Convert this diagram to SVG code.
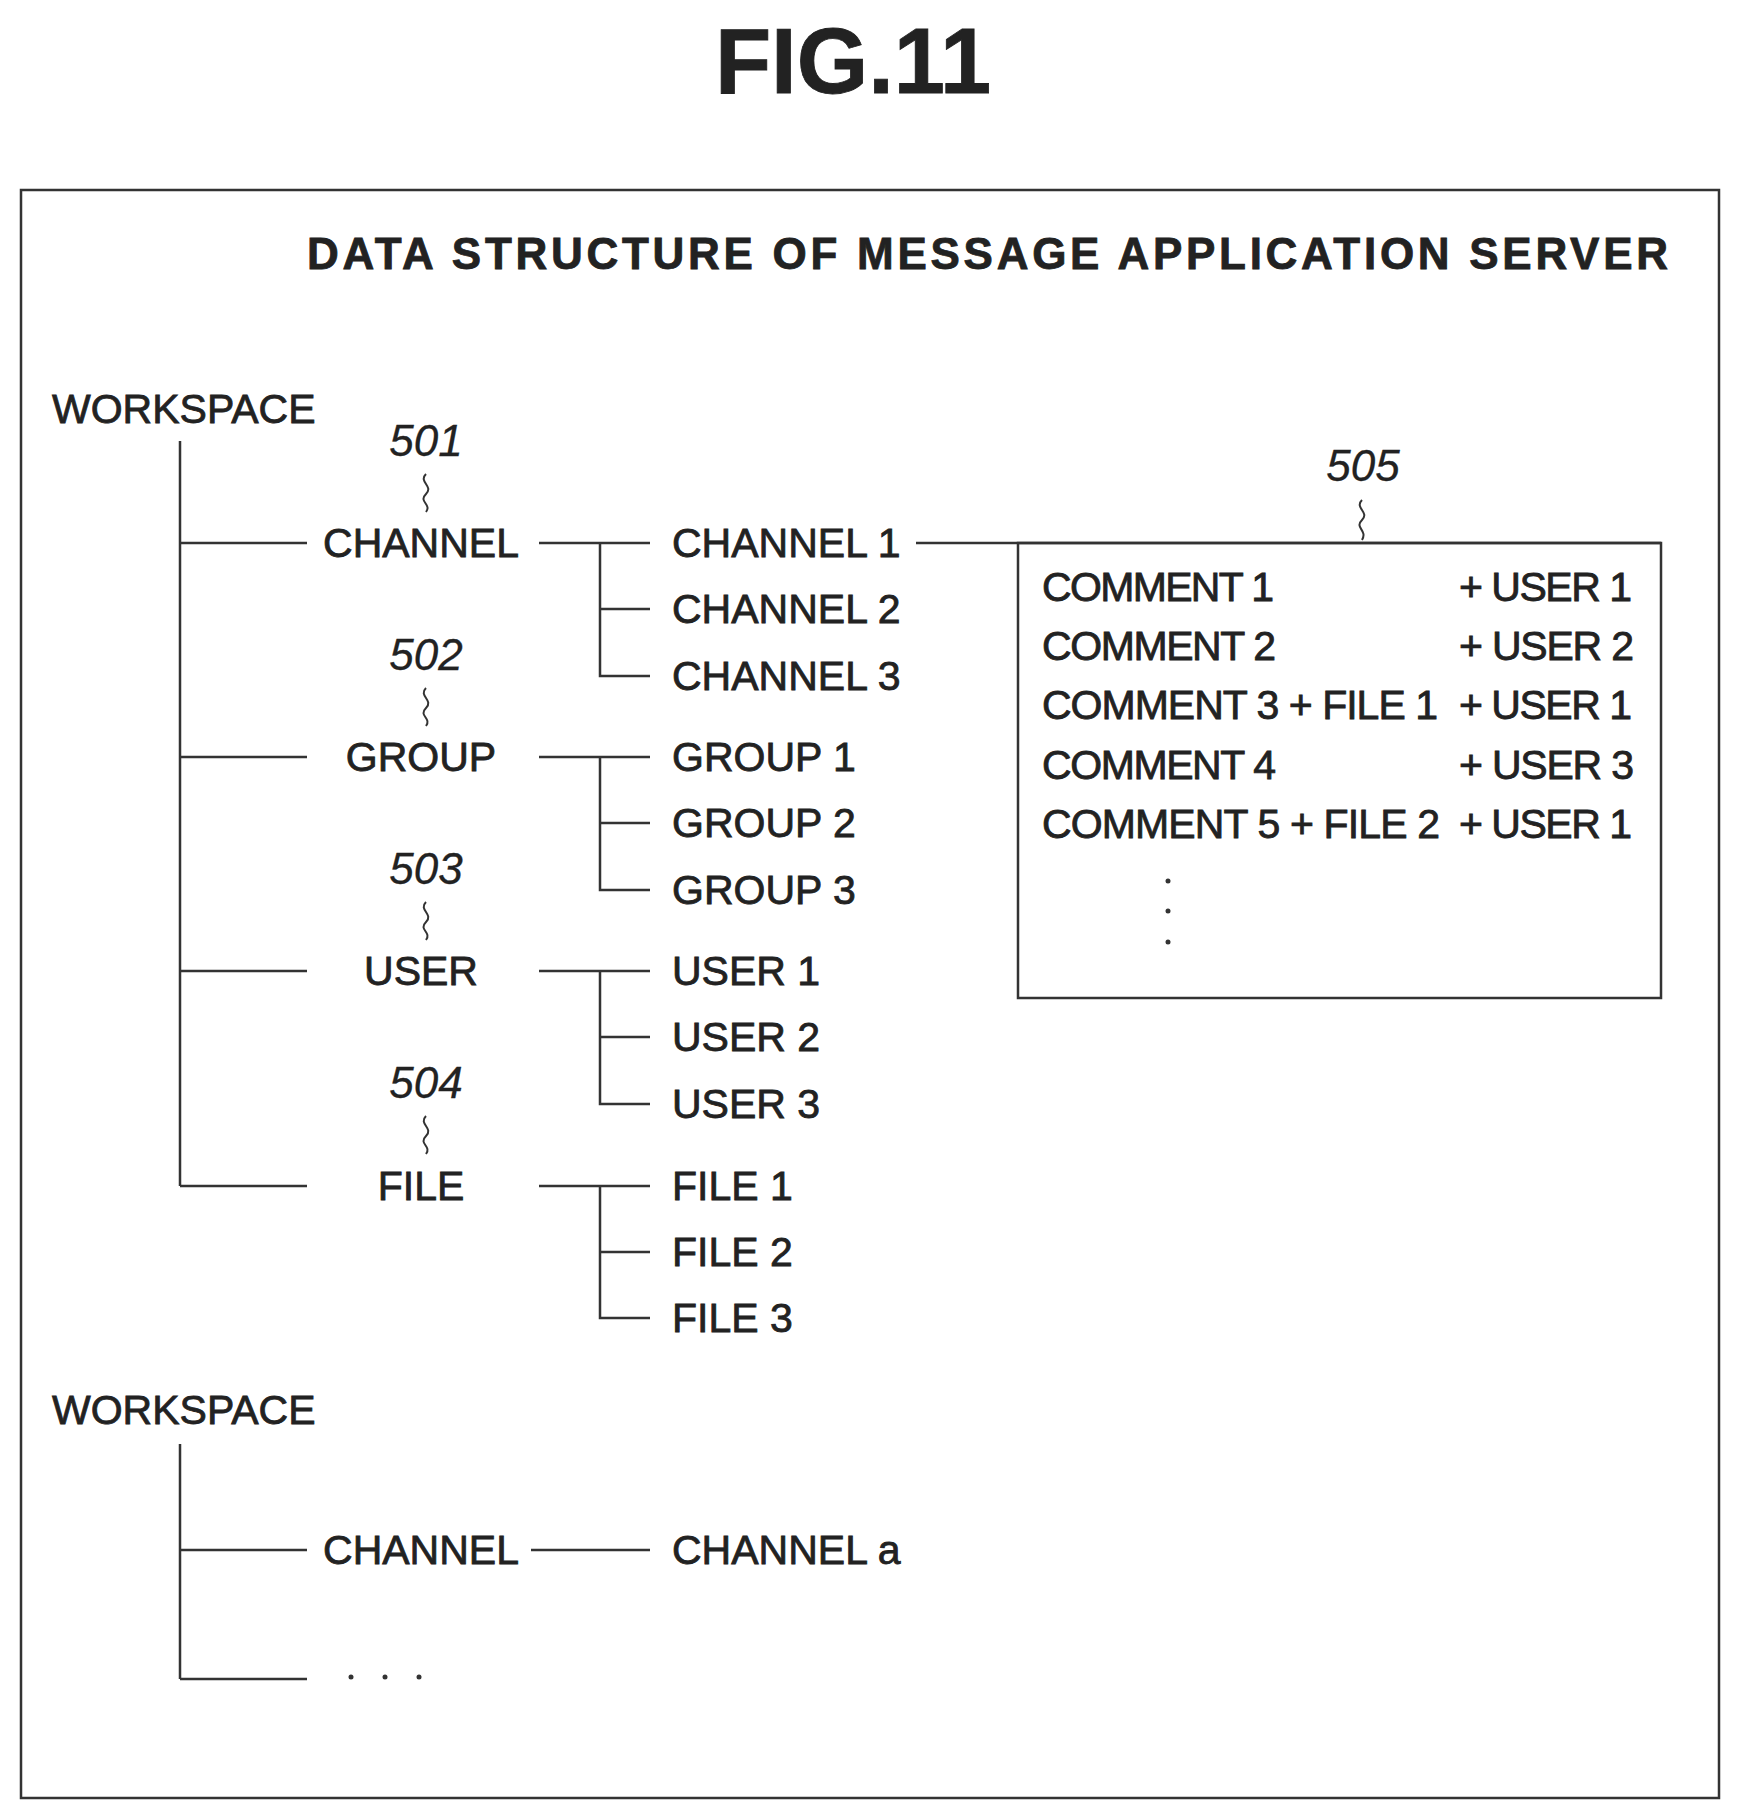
<svg xmlns="http://www.w3.org/2000/svg" width="1740" height="1819" viewBox="0 0 1740 1819">
<style>
text{font-family:"Liberation Sans",Arial,sans-serif;fill:#222;stroke:#222;stroke-width:0.8}
.t{font-size:41px}
.m{text-anchor:middle}
.r{font-size:44px;font-style:italic;stroke-width:0.3}
.ln{stroke:#333;stroke-width:2.5;fill:none}
.sq{stroke:#333;stroke-width:2;fill:none}
</style>
<rect width="1740" height="1819" fill="#fff"/>
<text x="853" y="93" class="m" style="font-size:92px;font-weight:bold">FIG.11</text>
<rect x="21" y="190" width="1698" height="1608" class="ln"/>
<text x="307" y="269" textLength="1361" lengthAdjust="spacing" style="font-size:44px;font-weight:bold">DATA STRUCTURE OF MESSAGE APPLICATION SERVER</text>
<g id="connectors">
<path class="ln" d="M180 441V1186M180 543H307M180 757H307M180 971H307M180 1186H307"/>
<path class="ln" d="M539 543H650M600 543V676H650M600 609H650"/>
<path class="ln" d="M539 757H650M600 757V890H650M600 823H650"/>
<path class="ln" d="M539 971H650M600 971V1104H650M600 1037H650"/>
<path class="ln" d="M539 1186H650M600 1186V1318H650M600 1252H650"/>
<path class="ln" d="M916 543H1661"/>
<path class="ln" d="M180 1444V1679M180 1550H307M180 1679H307M531 1550H650"/>
<path class="sq" d="M426 474c-8 8 8 12 0 20s6 10 0 18"/>
<path class="sq" d="M426 688c-8 8 8 12 0 20s6 10 0 18"/>
<path class="sq" d="M426 902c-8 8 8 12 0 20s6 10 0 18"/>
<path class="sq" d="M426 1116c-8 8 8 12 0 20s6 10 0 18"/>
<path class="sq" d="M1362 500c-8 8 8 12 0 20s6 10 0 20"/>
</g>
<g id="ws1"><text x="52" y="423" class="t">WORKSPACE</text></g>
<g id="n501"><text x="426" y="456" class="r m">501</text><text x="421" y="557" class="t m">CHANNEL</text></g>
<g id="n502"><text x="426" y="670" class="r m">502</text><text x="421" y="771" class="t m">GROUP</text></g>
<g id="n503"><text x="426" y="884" class="r m">503</text><text x="421" y="985" class="t m">USER</text></g>
<g id="n504"><text x="426" y="1098" class="r m">504</text><text x="421" y="1200" class="t m">FILE</text></g>
<g id="children" class="t">
<text x="672" y="557" class="t">CHANNEL 1</text><text x="672" y="623" class="t">CHANNEL 2</text><text x="672" y="690" class="t">CHANNEL 3</text>
<text x="672" y="771" class="t">GROUP 1</text><text x="672" y="837" class="t">GROUP 2</text><text x="672" y="904" class="t">GROUP 3</text>
<text x="672" y="985" class="t">USER 1</text><text x="672" y="1051" class="t">USER 2</text><text x="672" y="1118" class="t">USER 3</text>
<text x="672" y="1200" class="t">FILE 1</text><text x="672" y="1266" class="t">FILE 2</text><text x="672" y="1332" class="t">FILE 3</text>
</g>
<g id="n505">
<text x="1363" y="481" class="r m">505</text>
<rect x="1018" y="543" width="643" height="455" class="ln"/>
<text x="1042" y="601" class="t" textLength="232">COMMENT 1</text><text x="1459" y="601" class="t" textLength="173">+ USER 1</text>
<text x="1042" y="660" class="t" textLength="234">COMMENT 2</text><text x="1459" y="660" class="t" textLength="175">+ USER 2</text>
<text x="1042" y="719" class="t" textLength="396">COMMENT 3 + FILE 1</text><text x="1459" y="719" class="t" textLength="173">+ USER 1</text>
<text x="1042" y="779" class="t" textLength="234">COMMENT 4</text><text x="1459" y="779" class="t" textLength="175">+ USER 3</text>
<text x="1042" y="838" class="t" textLength="398">COMMENT 5 + FILE 2</text><text x="1459" y="838" class="t" textLength="173">+ USER 1</text>
<circle cx="1168" cy="881" r="2.5" fill="#333"/><circle cx="1168" cy="911" r="2.5" fill="#333"/><circle cx="1168" cy="942" r="2.5" fill="#333"/>
</g>
<g id="ws2"><text x="52" y="1424" class="t">WORKSPACE</text></g>
<g id="ch2"><text x="421" y="1564" class="t m">CHANNEL</text></g>
<g id="cha"><text x="672" y="1564" class="t">CHANNEL a</text></g>
<g id="etc"><circle cx="351" cy="1677" r="2.5" fill="#333"/><circle cx="385" cy="1677" r="2.5" fill="#333"/><circle cx="419" cy="1677" r="2.5" fill="#333"/></g>
</svg>
